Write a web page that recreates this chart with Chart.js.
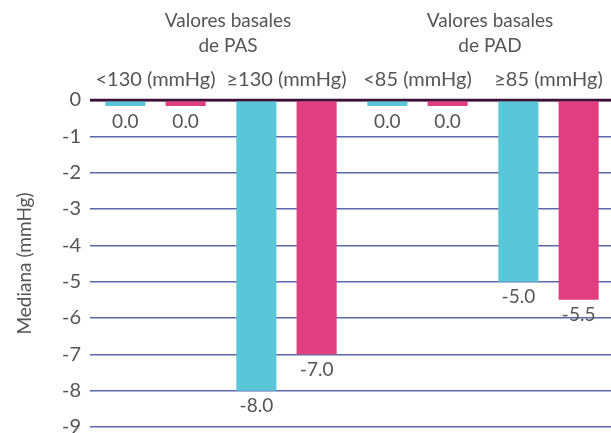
<!DOCTYPE html>
<html>
<head>
<meta charset="utf-8">
<script src="https://cdn.jsdelivr.net/npm/chart.js@4.4.1/dist/chart.umd.min.js"></script>
<style>
  html, body { margin: 0; padding: 0; overflow: hidden; background: #fff; }
  #wrap { width: 614px; height: 433px; }
</style>
</head>
<body>
<div id="wrap"><canvas id="chart"></canvas></div>
<script>
// ---------- data ----------
const groups = ['<130 (mmHg)', '≥130 (mmHg)', '<85 (mmHg)', '≥85 (mmHg)'];
const headers = [['Valores basales', 'de PAS'], ['Valores basales', 'de PAD']];
const seriesCyan = [0.0, -8.0, 0.0, -5.0];
const seriesPink = [0.0, -7.0, 0.0, -5.5];
const yMin = -9;
const yMax = 0;

const TEXT = '#555555';
const FONT = 'Lato, "Open Sans", sans-serif';
const ZERO_LINE = '#3d1138';

// draws "0.0" / "-8.0" under each bar, and the zero line over the bars
const valueLabels = {
  id: 'valueLabels',
  afterDatasetsDraw(chart) {
    const ctx = chart.ctx;
    const { left, right } = chart.chartArea;
    const y0 = chart.scales.y.getPixelForValue(0);
    ctx.save();
    ctx.strokeStyle = ZERO_LINE;
    ctx.lineWidth = 2.5;
    ctx.beginPath();
    ctx.moveTo(left, y0);
    ctx.lineTo(right, y0);
    ctx.stroke();

    ctx.font = `19px ${FONT}`;
    ctx.fillStyle = TEXT;
    ctx.textAlign = 'center';
    ctx.textBaseline = 'top';
    chart.data.datasets.forEach((ds, i) => {
      chart.getDatasetMeta(i).data.forEach((bar, j) => {
        const bottom = Math.max(bar.y, bar.base);
        ctx.fillText(ds.data[j].toFixed(1), bar.x, bottom + 6);
      });
    });
    ctx.restore();
  }
};

new Chart(document.getElementById('chart'), {
  type: 'bar',
  data: {
    labels: groups,
    datasets: [
      { label: 'Serie 1', data: seriesCyan, backgroundColor: '#59c7d7', clip: false },
      { label: 'Serie 2', data: seriesPink, backgroundColor: '#e03e7e', clip: false }
    ]
  },
  options: {
    responsive: true,
    maintainAspectRatio: false,
    animation: false,
    categoryPercentage: 0.92,
    barPercentage: 0.665,
    minBarLength: 6,
    layout: { padding: { left: 13, right: 0, top: 0, bottom: 6 } },
    plugins: {
      legend: { display: false },
      tooltip: { enabled: false }
    },
    scales: {
      x: {
        position: 'top',
        grid: { display: false },
        border: { display: false },
        ticks: { color: TEXT, font: { family: FONT, size: 20 }, padding: 0, maxRotation: 0, autoSkip: false },
        afterFit: (s) => { s.height = 32; }
      },
      x2: {
        type: 'category',
        position: 'top',
        weight: 1,
        labels: headers,
        offset: true,
        grid: { display: false },
        border: { display: false },
        ticks: { color: TEXT, font: { family: FONT, size: 19, lineHeight: 1.3 }, padding: 2, labelOffset: 7, maxRotation: 0 },
        afterFit: (s) => { s.height = 68; }
      },
      y: {
        min: yMin,
        max: yMax,
        ticks: { stepSize: 1, color: TEXT, font: { family: FONT, size: 20 }, padding: 9 },
        grid: {
          drawTicks: false,
          color: (c) => c.tick && c.tick.value === 0 ? ZERO_LINE : '#5b69a9',
          lineWidth: (c) => c.tick && c.tick.value === 0 ? 2.5 : 1.6
        },
        border: { display: false },
        title: {
          display: true,
          text: 'Mediana (mmHg)',
          color: TEXT,
          font: { family: FONT, size: 19 },
          padding: 0
        },
        afterFit: (s) => { s.width = 77; s.paddingTop = 0; s.paddingBottom = 0; }
      }
    }
  },
  plugins: [valueLabels]
});
</script>
</body>
</html>
